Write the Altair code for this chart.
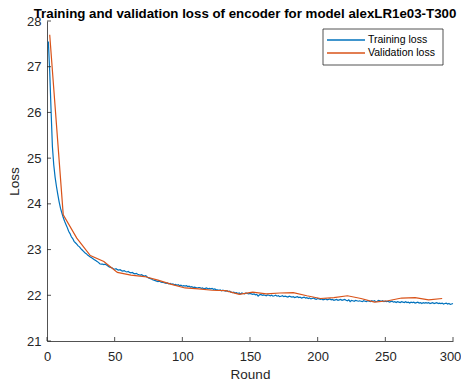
import altair as alt
import pandas as pd

train_loss = [
    27.55, 26.90, 26.05, 25.25, 24.85, 24.58, 24.38, 24.20, 24.04, 23.90,
    23.80, 23.70, 23.62, 23.55, 23.48, 23.40, 23.35, 23.28, 23.24, 23.18,
    23.15, 23.12, 23.08, 23.06, 23.02, 22.99, 22.96, 22.93, 22.91, 22.88,
    22.86, 22.84, 22.82, 22.80, 22.78, 22.76, 22.74, 22.72, 22.69, 22.68,
    22.68, 22.67, 22.68, 22.66, 22.64, 22.62, 22.61, 22.60, 22.58, 22.57,
    22.58, 22.56, 22.55, 22.56, 22.54, 22.53, 22.54, 22.52, 22.51, 22.52,
    22.50, 22.49, 22.50, 22.48, 22.47, 22.48, 22.46, 22.45, 22.44, 22.45,
    22.43, 22.42, 22.43, 22.40, 22.38, 22.37, 22.36, 22.34, 22.33, 22.32,
    22.31, 22.30, 22.31, 22.29, 22.28, 22.28, 22.27, 22.26, 22.27, 22.25,
    22.26, 22.24, 22.25, 22.23, 22.24, 22.22, 22.23, 22.21, 22.22, 22.20,
    22.21, 22.20, 22.21, 22.19, 22.20, 22.18, 22.19, 22.17, 22.18, 22.17,
    22.16, 22.17, 22.17, 22.15, 22.16, 22.14, 22.15, 22.16, 22.14, 22.15,
    22.14, 22.15, 22.13, 22.14, 22.12, 22.12, 22.11, 22.12, 22.10, 22.11,
    22.10, 22.09, 22.10, 22.08, 22.09, 22.07, 22.06, 22.07, 22.05, 22.06,
    22.04, 22.05, 22.03, 22.05, 22.04, 22.03, 22.05, 22.04, 22.03, 22.04,
    22.03, 22.02, 22.03, 22.01, 22.02, 21.98, 22.01, 22.02, 22.00, 22.01,
    22.00, 21.99, 22.01, 22.00, 21.99, 22.00, 21.98, 21.99, 22.00, 21.98,
    21.99, 21.97, 21.98, 21.99, 21.97, 21.98, 21.97, 21.96, 21.98, 21.97,
    21.96, 21.97, 21.95, 21.96, 21.97, 21.95, 21.96, 21.94, 21.95, 21.96,
    21.94, 21.95, 21.93, 21.94, 21.92, 21.93, 21.94, 21.92, 21.91, 21.93,
    21.92, 21.91, 21.92, 21.90, 21.91, 21.92, 21.90, 21.91, 21.92, 21.90,
    21.91, 21.89, 21.90, 21.91, 21.89, 21.90, 21.91, 21.89, 21.90, 21.91,
    21.89, 21.88, 21.90, 21.86, 21.89, 21.88, 21.87, 21.89, 21.88, 21.87,
    21.88, 21.87, 21.86, 21.88, 21.87, 21.86, 21.88, 21.87, 21.86, 21.88,
    21.87, 21.88, 21.86, 21.87, 21.89, 21.88, 21.87, 21.88, 21.86, 21.87,
    21.86, 21.87, 21.85, 21.86, 21.87, 21.85, 21.86, 21.84, 21.86, 21.85,
    21.84, 21.86, 21.85, 21.84, 21.86, 21.84, 21.85, 21.83, 21.85, 21.84,
    21.85, 21.83, 21.84, 21.85, 21.83, 21.84, 21.82, 21.84, 21.83, 21.84,
    21.83, 21.84, 21.82, 21.83, 21.84, 21.82, 21.83, 21.84, 21.82, 21.83,
    21.82, 21.83, 21.81, 21.82, 21.83, 21.81, 21.82, 21.80, 21.81, 21.82,
]
train_rounds = list(range(1, 301))

val_rounds = [2, 12, 22, 32, 42, 52, 62, 72, 82, 92, 102, 112, 122, 132, 142,
              152, 162, 172, 182, 192, 202, 212, 222, 232, 242, 252, 262, 272, 282, 292]
val_loss = [27.70, 23.76, 23.25, 22.87, 22.74, 22.50, 22.44, 22.41, 22.33, 22.24,
            22.16, 22.14, 22.11, 22.10, 22.02, 22.07, 22.03, 22.05, 22.06, 21.99,
            21.93, 21.95, 21.99, 21.93, 21.85, 21.88, 21.94, 21.95, 21.90, 21.93]

series_names = ["Training loss", "Validation loss"]
series_colors = ["#0072BD", "#D95319"]
x_ticks = [0, 50, 100, 150, 200, 250, 300]
y_ticks = [21, 22, 23, 24, 25, 26, 27, 28]
title_text = ["Training and validation loss of encoder for model alexLR1e03-T300"]

df = pd.concat([
    pd.DataFrame({"Round": train_rounds, "Loss": train_loss, "series": series_names[0]}),
    pd.DataFrame({"Round": val_rounds, "Loss": val_loss, "series": series_names[1]}),
])

W, H = 406, 320
FONT = "Liberation Sans"
AX = "#262626"

xscale = alt.Scale(domain=[0, 300], nice=False)
yscale = alt.Scale(domain=[21, 28], nice=False)
cscale = alt.Scale(domain=series_names, range=series_colors)
legend_y = alt.Scale(type="point", domain=series_names, range=[19, 32], padding=0)
x_axis = alt.Axis(values=x_ticks, ticks=False, labelPadding=9, titlePadding=4,
                  grid=False, labelFlush=False,
                  labelOffset=alt.expr("datum.value == 300 ? -3 : 0"))

lines = alt.Chart(df).mark_line(strokeWidth=1.2).encode(
    x=alt.X("Round:Q", scale=xscale, title="Round", axis=x_axis),
    y=alt.Y("Loss:Q", scale=yscale, title="Loss",
            axis=alt.Axis(values=y_ticks, ticks=False, labelPadding=6, titlePadding=5,
                          grid=False, labelFlush=False)),
    color=alt.Color("series:N", scale=cscale, legend=None),
    order="Round:Q",
)

xtick_df = pd.DataFrame({"t": x_ticks})
ytick_df = pd.DataFrame({"t": y_ticks})

xt = alt.Chart(xtick_df).mark_rule(color=AX, strokeWidth=0.8).encode(
    x=alt.X("t:Q", scale=xscale, title="Round", axis=x_axis),
    y=alt.value(H), y2=alt.value(H - 4))
yt = alt.Chart(ytick_df).mark_rule(color=AX, strokeWidth=0.8).encode(
    y=alt.Y("t:Q", scale=yscale, axis=None), x=alt.value(0), x2=alt.value(4))

legend_df = pd.DataFrame({"series": series_names})
box = alt.Chart(pd.DataFrame({"a": [0]})).mark_rect(
    fill="white", stroke=AX, strokeWidth=0.8).encode(
    x=alt.value(276), x2=alt.value(396), y=alt.value(8), y2=alt.value(44))
leg_lines = alt.Chart(legend_df).mark_rule(strokeWidth=1.5).encode(
    x=alt.value(280), x2=alt.value(318),
    y=alt.Y("series:N", scale=legend_y, axis=None),
    color=alt.Color("series:N", scale=cscale, legend=None))
leg_text = alt.Chart(legend_df).mark_text(
    align="left", baseline="middle", font=FONT, fontSize=10.5, color="#000000").encode(
    x=alt.value(321),
    y=alt.Y("series:N", scale=legend_y, axis=None),
    text="series:N")

title_mark = alt.Chart(pd.DataFrame({"title": title_text})).mark_text(
    align="center", baseline="alphabetic", font=FONT, fontSize=13.3,
    fontWeight="bold", color="#000000").encode(
    x=alt.value(198), y=alt.value(-3), text="title:N")

chart = alt.layer(lines, xt, yt, box, leg_lines, leg_text, title_mark).resolve_scale(
    y="independent"
).properties(
    width=W, height=H,
    autosize=alt.AutoSizeParams(type="none"),
    padding={"left": 39, "top": 13, "right": 8, "bottom": 40},
).configure_view(stroke=None).configure_axis(
    domainColor=AX, domainWidth=0.8, labelColor=AX, titleColor=AX,
    labelFont=FONT, titleFont=FONT, labelFontSize=13, titleFontSize=13.5,
    titleFontWeight="normal",
)

chart.save("out.html", embed_options={"renderer": "svg", "actions": False})
